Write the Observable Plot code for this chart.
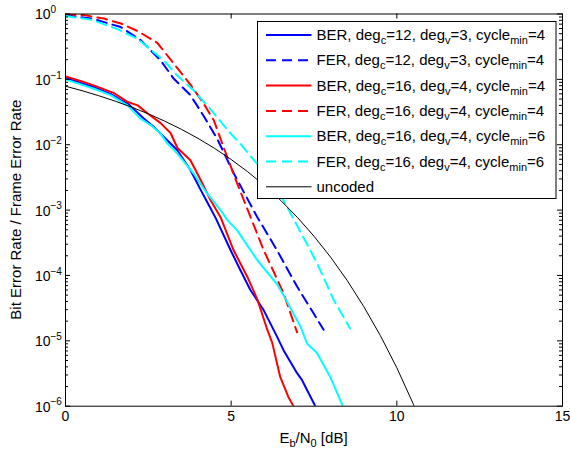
<!DOCTYPE html>
<html>
<head>
<meta charset="utf-8">
<script src="https://cdn.jsdelivr.net/npm/d3@7"></script>
<script src="https://cdn.jsdelivr.net/npm/@observablehq/plot@0.6"></script>
<style>
  html, body { margin: 0; padding: 0; background: white; }
  #chart { width: 570px; height: 457px; }
</style>
</head>
<body>
<div id="chart"></div>
<script>
// ---------- data ----------
const berC12V3C4_x = [0, 0.86, 1.36, 1.67, 1.87, 2.37, 2.67, 3.07, 3.37, 3.77, 4.08, 4.28, 4.53, 4.98, 5.28, 5.58, 5.98, 6.38, 6.58, 6.99, 7.14, 7.54, 7.58];
const berC12V3C4_y = [0.105, 0.076, 0.060, 0.048, 0.043, 0.025, 0.0186, 0.0117, 0.0083, 0.0041, 0.00204, 0.00132, 0.00076, 0.000245, 0.00012, 6.0e-5, 2.95e-5, 1.17e-5, 7.2e-6, 3.2e-6, 2.5e-6, 1.0e-6, 8.5e-7];

const ferC12V3C4_x = [0, 0.8, 1.67, 2.27, 2.87, 3.27, 3.77, 4.17, 4.58, 5.08, 5.78, 6.38, 6.99, 7.79];
const ferC12V3C4_y = [0.955, 0.851, 0.631, 0.398, 0.195, 0.102, 0.0575, 0.0275, 0.0123, 0.00363, 0.000794, 0.000245, 6.76e-5, 1.48e-5];

const berC16V4C4_x = [0, 0.5, 0.85, 1.45, 1.88, 2.18, 2.48, 2.87, 3.17, 3.38, 3.77, 4.08, 4.38, 4.68, 5.07, 5.49, 5.79, 6.09, 6.24, 6.48, 6.72, 6.88, 6.92];
const berC16V4C4_y = [0.111, 0.093, 0.081, 0.062, 0.045, 0.040, 0.030, 0.0214, 0.0151, 0.0089, 0.0058, 0.00288, 0.00141, 0.00078, 0.000245, 9.5e-5, 4.3e-5, 1.48e-5, 9.3e-6, 2.8e-6, 1.41e-6, 1.0e-6, 8.5e-7];

const ferC16V4C4_x = [0, 0.6, 1.16, 1.7, 2.17, 2.77, 3.27, 3.77, 4.17, 4.48, 4.78, 5.18, 5.58, 5.98, 6.58, 6.99];
const ferC16V4C4_y = [1.0, 0.955, 0.851, 0.708, 0.550, 0.363, 0.174, 0.0832, 0.0427, 0.0234, 0.0089, 0.00257, 0.000794, 0.000245, 5.37e-5, 1.35e-5];

const berC16V4C6_x = [0, 0.86, 1.36, 1.87, 2.27, 2.57, 2.87, 3.07, 3.37, 3.87, 4.28, 4.68, 4.88, 5.18, 5.78, 6.38, 6.58, 7.09, 7.29, 7.59, 7.99, 8.37, 8.42];
const berC16V4C6_y = [0.100, 0.072, 0.0575, 0.040, 0.025, 0.020, 0.0148, 0.0105, 0.0074, 0.0036, 0.00178, 0.0010, 0.00071, 0.00049, 0.000174, 7.4e-5, 5.0e-5, 1.66e-5, 9.1e-6, 6.5e-6, 2.8e-6, 1.0e-6, 8.5e-7];

const ferC16V4C6_x = [0, 0.8, 1.56, 2.17, 2.97, 3.37, 3.87, 4.45, 4.9, 5.3, 5.94, 6.58, 7.09, 7.59, 8.09, 8.59];
const ferC16V4C6_y = [0.933, 0.813, 0.589, 0.417, 0.195, 0.115, 0.0676, 0.0316, 0.0166, 0.0100, 0.00407, 0.00141, 0.000468, 0.000155, 4.27e-5, 1.55e-5];

const uncoded_x = [0, 0.5, 1, 1.5, 2, 2.5, 3, 3.5, 4, 4.5, 5, 5.5, 6, 6.5, 7, 7.5, 8, 8.5, 9, 9.5, 10, 10.5, 11];
const uncoded_y = [0.0786, 0.0671, 0.0563, 0.0464, 0.0375, 0.0297, 0.0229, 0.0172, 0.0125, 0.0088, 0.00595, 0.00386, 0.00239, 0.0014, 0.000773, 0.000398, 0.000191, 8.4e-5, 3.36e-5, 1.21e-5, 3.87e-6, 1.07e-6, 2.6e-7];

// series descriptors (legend text parts)
const seriesKinds = ["BER", "FER", "BER", "FER", "BER", "FER", "uncoded"];
const seriesDegC  = [12, 12, 16, 16, 16, 16, null];
const seriesDegV  = [3, 3, 4, 4, 4, 4, null];
const seriesCycle = [4, 4, 4, 4, 6, 6, null];
const seriesX = [berC12V3C4_x, ferC12V3C4_x, berC16V4C4_x, ferC16V4C4_x, berC16V4C6_x, ferC16V4C6_x, uncoded_x];
const seriesY = [berC12V3C4_y, ferC12V3C4_y, berC16V4C4_y, ferC16V4C4_y, berC16V4C6_y, ferC16V4C6_y, uncoded_y];

const xTicks = [0, 5, 10, 15];
const xTickLabels = ["0", "5", "10", "15"];
const yTicks = [1, 1e-1, 1e-2, 1e-3, 1e-4, 1e-5, 1e-6];
const yTickExponents = ["0", "\u22121", "\u22122", "\u22123", "\u22124", "\u22125", "\u22126"];
const yMinor = [];
for (let e = -6; e < 0; e++) for (let m = 2; m <= 9; m++) yMinor.push(m * Math.pow(10, e));

// ---------- styles ----------
const colors = ["#0000ff", "#0000ff", "#ff0000", "#ff0000", "#00ffff", "#00ffff", "#000000"];
const dashes = [null, "10,6", null, "10,6", null, "10,6", null];
const widths = [2, 2, 2, 2, 2, 2, 1];

const W = 570, H = 457;
const mL = 65, mR = 8, mT = 13.5, mB = 51.3;
const innerW = W - mL - mR, innerH = H - mT - mB;
const font = "'Liberation Sans', Arial, Helvetica, sans-serif";

const tables = seriesX.map((xs, i) => xs.map((x, j) => ({x, y: seriesY[i][j], s: i})));

const lineMarks = tables.map((t, i) => Plot.line(t, {
  x: "x", y: "y", stroke: colors[i], strokeWidth: widths[i],
  strokeDasharray: dashes[i] || undefined, clip: true
}));

const chart = Plot.plot({
  width: W, height: H,
  marginLeft: mL, marginRight: mR, marginTop: mT, marginBottom: mB,
  style: {fontFamily: font, fontSize: "14px", background: "white", color: "black"},
  x: {domain: [0, 15], axis: null},
  y: {type: "log", domain: [1e-6, 1], axis: null},
  marks: [
    ...lineMarks,
    // inward ticks (MATLAB style)
    Plot.ruleX(xTicks, {x: d => d, insetTop: innerH - 5, stroke: "black"}),
    Plot.ruleX(xTicks, {x: d => d, insetBottom: innerH - 5, stroke: "black"}),
    Plot.ruleY(yTicks, {y: d => d, insetRight: innerW - 5, stroke: "black"}),
    Plot.ruleY(yTicks, {y: d => d, insetLeft: innerW - 5, stroke: "black"}),
    Plot.ruleY(yMinor, {y: d => d, insetRight: innerW - 3, stroke: "black"}),
    Plot.ruleY(yMinor, {y: d => d, insetLeft: innerW - 3, stroke: "black"}),
    Plot.frame({stroke: "black", strokeWidth: 1}),
    // tick labels
    Plot.text(xTicks, {x: d => d, text: (d, i) => xTickLabels[i], frameAnchor: "bottom", dy: 14.5, fontSize: 14, fill: "black"}),
    Plot.text(yTicks, {y: d => d, text: () => "10", frameAnchor: "left", textAnchor: "end", dx: -15, dy: 1, fontSize: 14, fill: "black"}),
    Plot.text(yTicks, {y: d => d, text: (d, i) => yTickExponents[i], frameAnchor: "left", textAnchor: "start", dx: -15, dy: -4, fontSize: 10, fill: "black"})
  ]
});

document.getElementById("chart").appendChild(chart);

const svg = d3.select(chart);

// axis titles
const xl = svg.append("text")
  .attr("x", mL + innerW / 2).attr("y", 443)
  .attr("text-anchor", "middle")
  .attr("font-family", font).attr("font-size", 15).attr("fill", "black");
xl.append("tspan").text("E");
xl.append("tspan").attr("font-size", 11).attr("dy", 4).text("b");
xl.append("tspan").attr("dy", -4).text("/N");
xl.append("tspan").attr("font-size", 11).attr("dy", 4).text("0");
xl.append("tspan").attr("dy", -4).text(" [dB]");

svg.append("text")
  .attr("transform", `translate(20.5,${mT + innerH / 2}) rotate(-90)`)
  .attr("text-anchor", "middle")
  .attr("font-family", font).attr("font-size", 15).attr("fill", "black")
  .text("Bit Error Rate / Frame Error Rate");

// legend
const lg = svg.append("g").attr("text-anchor", "start");
lg.append("rect")
  .attr("x", 257.5).attr("y", 21.5).attr("width", 298.5).attr("height", 177)
  .attr("fill", "white").attr("stroke", "black").attr("stroke-width", 1);
seriesKinds.forEach((k, i) => {
  const ly = 35 + 25.3 * i;
  lg.append("line")
    .attr("x1", 266).attr("x2", 311.5).attr("y1", ly).attr("y2", ly)
    .attr("stroke", colors[i]).attr("stroke-width", widths[i])
    .attr("stroke-dasharray", dashes[i]);
  const t = lg.append("text")
    .attr("x", 316.5).attr("y", ly + 5)
    .attr("text-anchor", "start")
    .attr("font-family", font).attr("font-size", 15).attr("fill", "black");
  if (k === "uncoded") { t.text("uncoded"); return; }
  t.append("tspan").text(`${k}, deg`);
  t.append("tspan").attr("font-size", 11).attr("dy", 4).text("c");
  t.append("tspan").attr("dy", -4).text(`=${seriesDegC[i]}, deg`);
  t.append("tspan").attr("font-size", 11).attr("dy", 4).text("v");
  t.append("tspan").attr("dy", -4).text(`=${seriesDegV[i]}, cycle`);
  t.append("tspan").attr("font-size", 11).attr("dy", 4).text("min");
  t.append("tspan").attr("dy", -4).text(`=${seriesCycle[i]}`);
});
</script>
</body>
</html>
